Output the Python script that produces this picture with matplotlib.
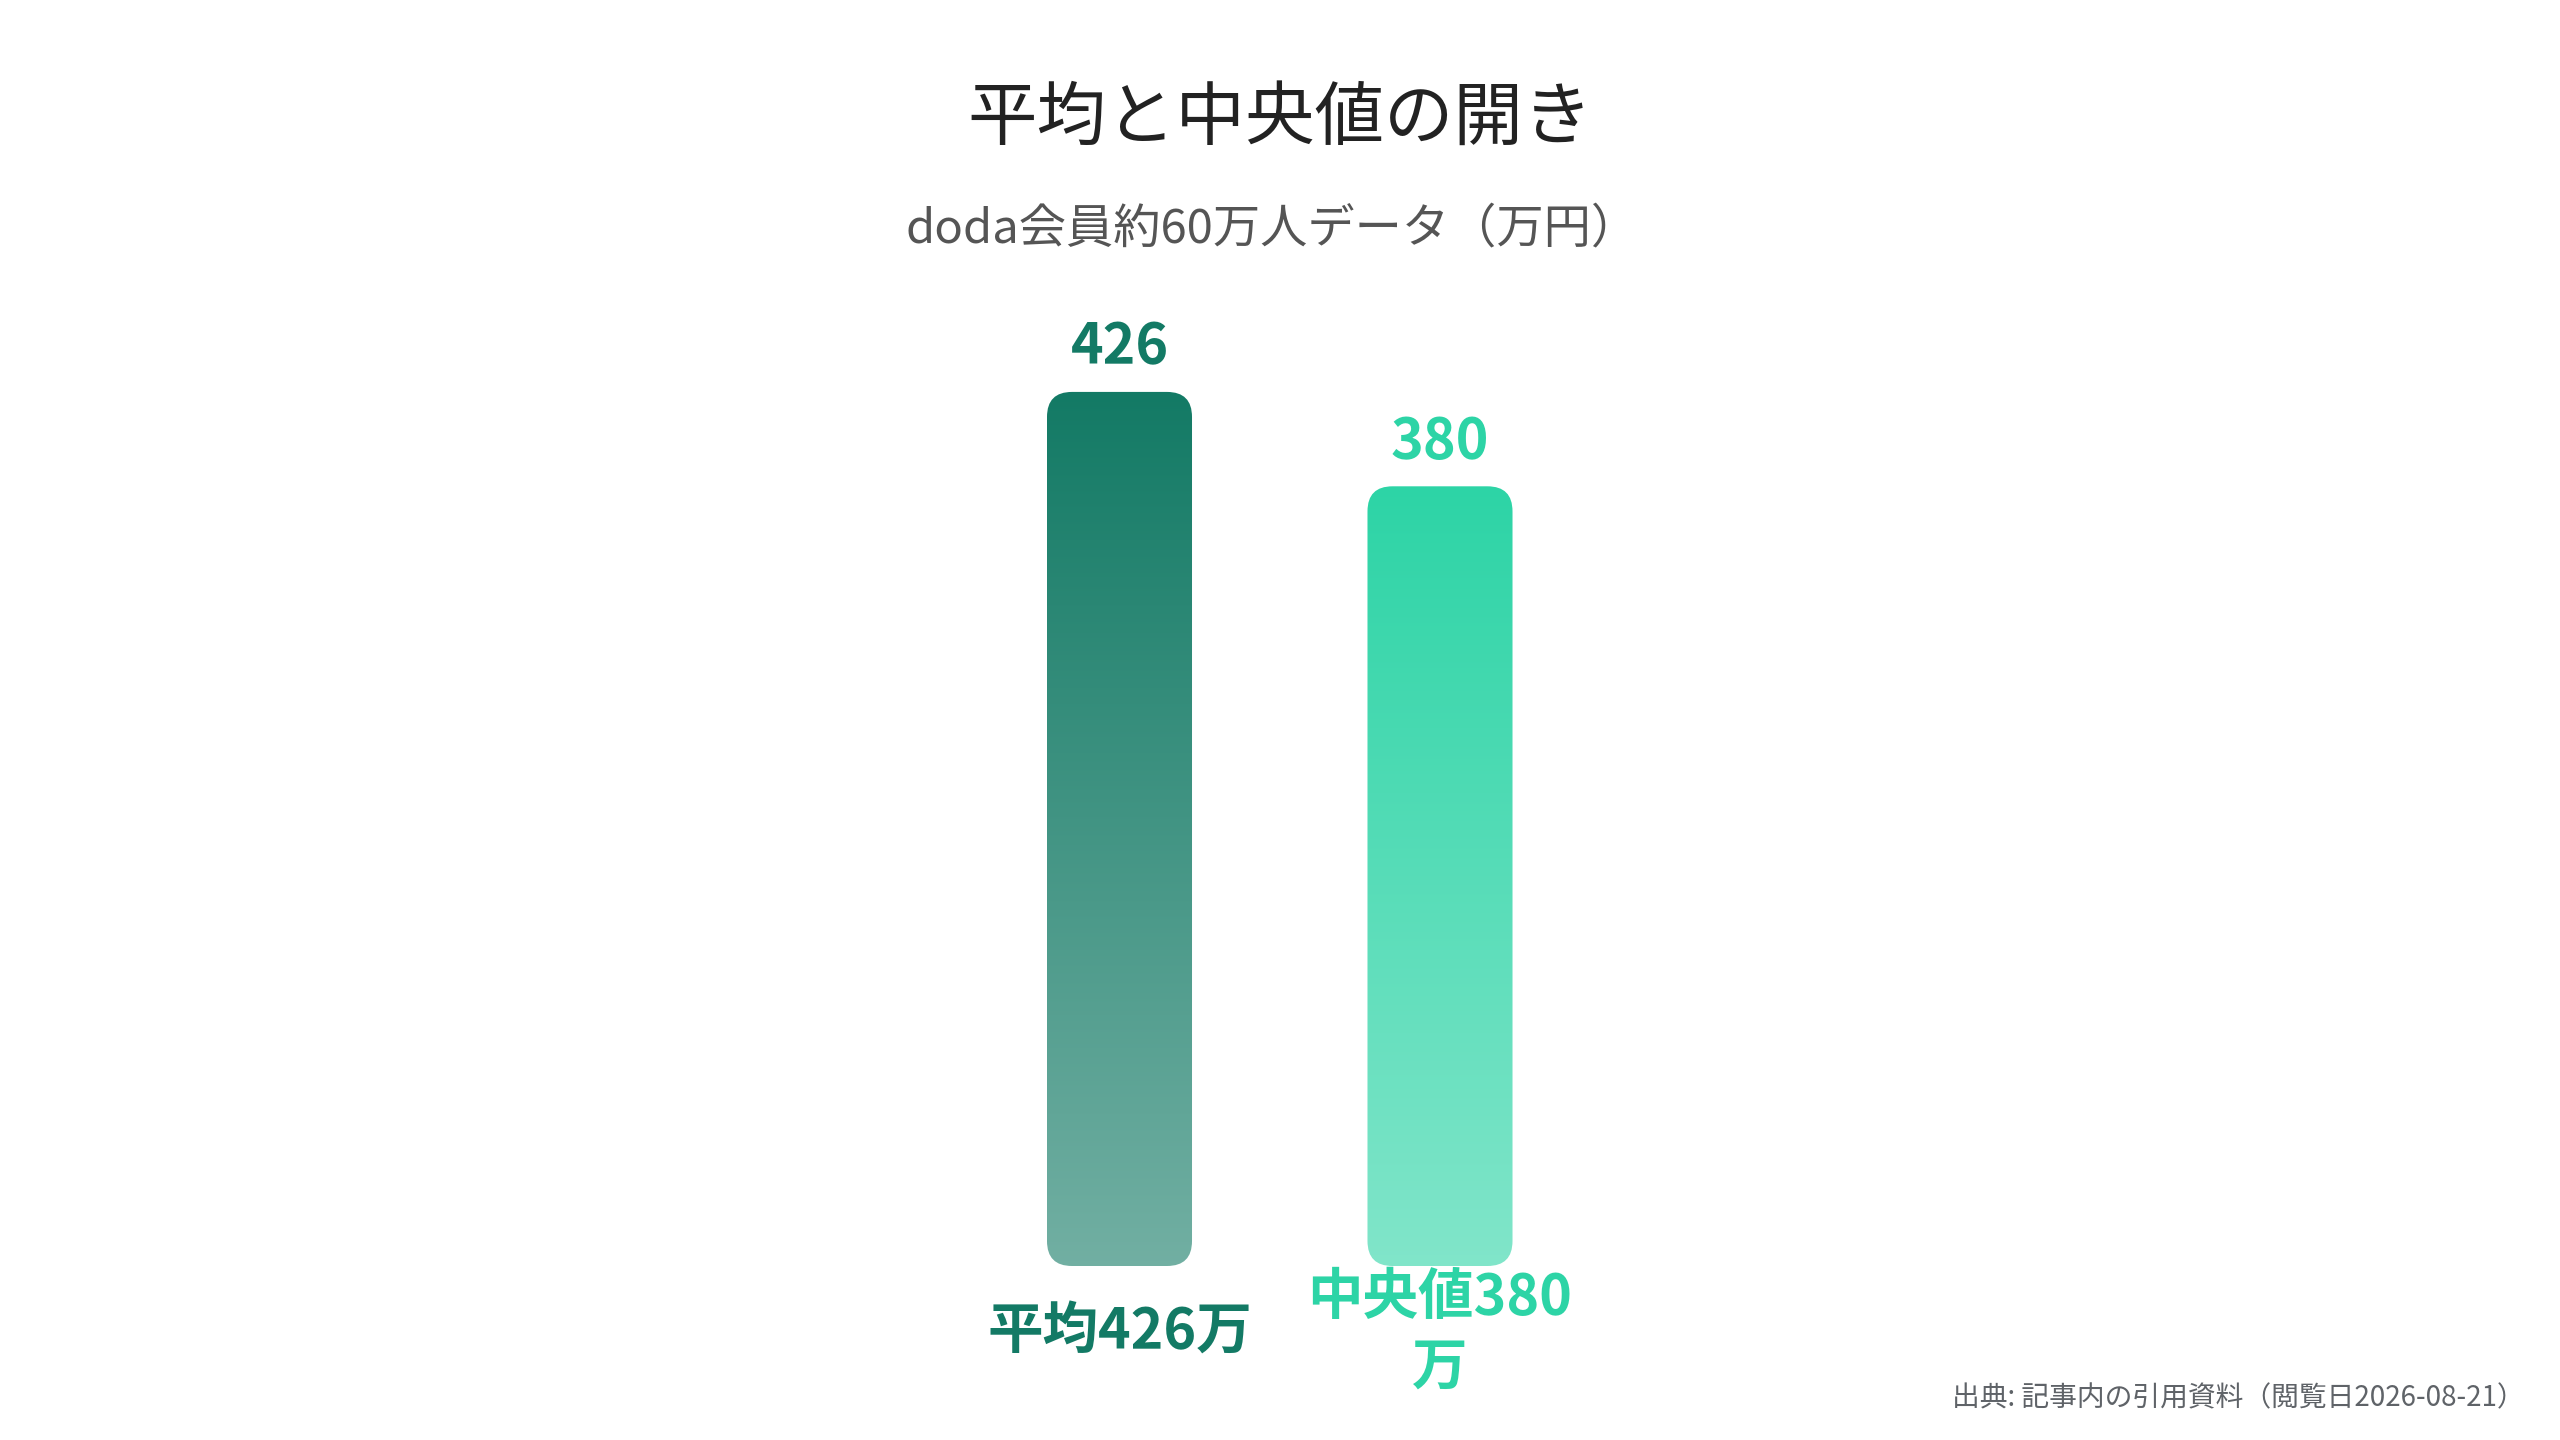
import matplotlib
matplotlib.use("Agg")
import matplotlib.pyplot as plt
import numpy as np
from matplotlib.patches import FancyBboxPatch
from matplotlib.colors import to_rgb

plt.rcParams['font.family'] = ['Noto Sans CJK JP', 'DejaVu Sans']

title = "平均と中央値の開き"
subtitle = "doda会員約60万人データ（万円）"
source = "出典: 記事内の引用資料（閲覧日2026-08-21）"
categories = ["平均", "中央値"]
values = [426, 380]
value_labels = ["426", "380"]
tick_labels = ["平均426万", "中央値380\n万"]
colors = ["#137a65", "#2dd4a6"]

fig = plt.figure(figsize=(25.6, 14.4), dpi=100)
fig.patch.set_facecolor("white")
ax = fig.add_axes([959.25 / 2560, 1 - 1266 / 1440, 641 / 2560, 966 / 1440])
ax.set_xlim(-0.5, 1.5)
ax.set_ylim(0, 470.8)
ax.axis('off')

bar_width = 0.4525
x = np.arange(len(values))
bars = ax.bar(x, values, width=bar_width, color='none', edgecolor='none')

px_x = ax.transData.transform((1, 0))[0] - ax.transData.transform((0, 0))[0]
px_y = ax.transData.transform((0, 1))[1] - ax.transData.transform((0, 0))[1]
radius_px = 25
r = radius_px / px_x
aspect = px_x / px_y

for rect, c in zip(bars, colors):
    x0 = rect.get_x()
    w = rect.get_width()
    h = rect.get_height()
    patch = FancyBboxPatch((x0, 0), w, h,
                           boxstyle=f"round,pad=0,rounding_size={r}",
                           mutation_aspect=aspect, fc='none', ec='none')
    ax.add_patch(patch)
    rgb = np.array(to_rgb(c))
    alpha = np.linspace(0.6, 1.0, 256)[:, None]
    grad = rgb[None, :] * alpha + (1 - alpha)
    img = grad[:, None, :]
    im = ax.imshow(img, extent=(x0, x0 + w, 0, h), origin='lower',
                   aspect='auto', interpolation='bilinear', zorder=2)
    im.set_clip_path(patch)

ax.set_xlim(-0.5, 1.5)
ax.set_ylim(0, 470.8)

for xi, v, lbl, tl, c in zip(x, values, value_labels, tick_labels, colors):
    ax.annotate(lbl, (xi, v), xytext=(0, 32), textcoords='offset points',
                ha='center', va='center', fontsize=40, fontweight='bold',
                color=c, annotation_clip=False)
    ax.annotate(tl, (xi, 0), xytext=(0, -48), textcoords='offset points',
                ha='center', va='center', fontsize=40, fontweight='bold',
                color=c, linespacing=1.3, multialignment='center',
                annotation_clip=False)

fig.text(0.5, 0.9175, title, ha='center', va='center', fontsize=50, color='#222222')
fig.text(0.497, 0.8405, subtitle, ha='center', va='center', fontsize=34, color='#555555')
fig.text(0.986, 0.029, source, ha='right', va='center', fontsize=20, color='#5f6368')

fig.savefig("out.png", dpi=100, facecolor='white')
